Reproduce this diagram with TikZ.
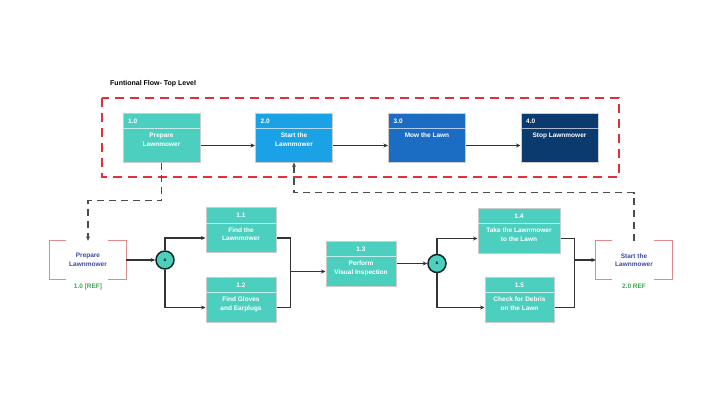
\documentclass[tikz,border=0pt]{standalone}
\usepackage{fontspec}
\setmainfont{Liberation Sans}
\usetikzlibrary{calc,arrows.meta}
\definecolor{tealbox}{HTML}{4CCFBE}
\definecolor{skybox}{HTML}{1BA1E6}
\definecolor{bluebox}{HTML}{1A6DC2}
\definecolor{navybox}{HTML}{0B3B6E}
\definecolor{reflabel}{HTML}{3AAA4E}
\definecolor{reftext}{HTML}{3B4BA8}
\definecolor{bracketred}{HTML}{E08A8E}
\definecolor{framered}{HTML}{E0303A}
\tikzset{
	fbox/.style={draw=black!20, line width=1pt, inner sep=0pt},
	boxtext/.style={text=white, font=\fontsize{6.5}{8.5}\selectfont\bfseries, align=center, inner sep=0pt},
	boxnum/.style={text=white, font=\fontsize{6.5}{7}\selectfont\bfseries, inner sep=0pt},
	numleft/.style={anchor=west, xshift=-33.5pt},
	flow/.style={draw=black!80, line width=1.3pt, -{Stealth[length=4.5pt,width=4pt]}},
	joinline/.style={draw=black!80, line width=1.3pt},
	dashflow/.style={draw=black!70, line width=1.6pt, dash pattern=on 7pt off 5pt, -{Stealth[length=4.5pt,width=4pt]}},
	refbox/.style={minimum width=76pt, minimum height=38pt, inner sep=0pt, text=reftext, font=\fontsize{6.5}{8.5}\selectfont\bfseries, align=center},
	bracket/.style={draw=bracketred, line width=1.1pt},
	reflbl/.style={text=reflabel, font=\fontsize{6.5}{7}\selectfont\bfseries, inner sep=0pt},
	andgate/.style={circle, draw=black!80!tealbox, line width=1.5pt, fill=tealbox, minimum size=18pt, inner sep=0pt, font=\fontsize{4}{4}\selectfont\bfseries}
}
% fill, name, centre, width, height, number options, number, text
\def\funcbox[#1](#2)(#3)(#4,#5)#6#7#8{
	\node[fbox, fill=#1, minimum width=#4pt, minimum height=#5pt] (#2) at (#3) {};
	\draw[white!65!#1, line width=0.8pt] ($(#2.north west)+(0.6,16)$) -- ($(#2.north east)+(-0.6,16)$);
	\node[boxnum, #6] at ($(#2.north)+(0,8.5)$) {#7};
	\node[boxtext, anchor=north] at ($(#2.north)+(0,20.5)$) {#8};
	\coordinate (#2-w) at ($(#2.west)+(0,8)$);
	\coordinate (#2-e) at ($(#2.east)+(0,8)$);
}
% name, centre, text
\def\refblock(#1)(#2)#3{
	\node[refbox] (#1) at (#2) {#3};
	\draw[bracket] ([xshift=16pt]#1.north west) -- (#1.north west) -- (#1.south west) -- ([xshift=16pt]#1.south west);
	\draw[bracket] ([xshift=-18pt]#1.north east) -- (#1.north east) -- (#1.south east) -- ([xshift=-18pt]#1.south east);
}

\begin{document}
\begin{tikzpicture}[x=1pt, y=-1pt]
	%%%%% START %%%%%
	\fill[white] (0,0) rectangle (720,413);
	\useasboundingbox (0,0) rectangle (720,413);
	
	% top level
	\node[anchor=west, inner sep=0pt, font=\fontsize{7}{8}\selectfont\bfseries] (title) at (110,84) {Funtional Flow- Top Level};
	\draw[framered, line width=2.4pt, dash pattern=on 9pt off 6pt] (102,98) rectangle (619,177);
	
	\funcbox[tealbox](b10)(161.5,137.5)(77,49){numleft}{1.0}{Prepare\\Lawnmower}
	\funcbox[skybox](b20)(294,137.5)(77,49){numleft}{2.0}{Start the\\Lawnmower}
	\funcbox[bluebox](b30)(427,137.5)(77,49){numleft}{3.0}{Mow the Lawn}
	\funcbox[navybox](b40)(559.5,137.5)(77,49){numleft}{4.0}{Stop Lawnmower}
	
	\draw[flow] (b10-e) -- (b20-w);
	\draw[flow] (b20-e) -- (b30-w);
	\draw[flow] (b30-e) -- (b40-w);
	
	% second level
	\refblock(ref10)(88,260){Prepare\\Lawnmower}
	\node[reflbl] (ref10lbl) at (88,287) {1.0 [REF]};
	\refblock(ref20)(634,260){Start the\\Lawnmower}
	\node[reflbl] (ref20lbl) at (634,286) {2.0 REF};
	
	\node[andgate] (and1) at (165,260) {\&};
	\node[andgate] (and2) at (437,263.5) {\&};
	
	\funcbox[tealbox](b11)(241,230)(70,45){}{1.1}{Find the\\Lawnmower}
	\funcbox[tealbox](b12)(241,299.5)(70,45){}{1.2}{Find Gloves\\and Earplugs}
	\funcbox[tealbox](b13)(361,263.5)(70,45){}{1.3}{Perform\\Visual Inspection}
	\funcbox[tealbox](b14)(519,230.5)(82,45){}{1.4}{Take the Lawnmower\\to the Lawn}
	\funcbox[tealbox](b15)(519.5,299.5)(69,45){}{1.5}{Check for Debris\\on the Lawn}
	
	\coordinate (d1) at ($(b10.south)+(0,38)$);
	\draw[dashflow] (b10.south) -- (d1) -| (ref10.north);
	\coordinate (d2) at ($(b20.south)+(0,30)$);
	\draw[dashflow] (ref20.north) |- (d2) -- (b20.south);
	
	\draw[flow] (ref10.east) -- (and1.west);
	\draw[flow] (and1.north) |- (b11-w);
	\draw[flow] (and1.south) |- (b12-w);
	\coordinate (m1) at ($(b13-w)+(-35,0)$);
	\draw[joinline] (b11-e) -| (m1);
	\draw[joinline] (b12-e) -| (m1);
	\draw[flow] (m1) -- (b13-w);
	
	\draw[flow] (b13.east) -- (and2.west);
	\draw[flow] (and2.north) |- (b14-w);
	\draw[flow] (and2.south) |- (b15-w);
	\coordinate (m2) at ($(ref20.west)+(-21,0)$);
	\draw[joinline] (b14-e) -| (m2);
	\draw[joinline] (b15-e) -| (m2);
	\draw[flow] (m2) -- (ref20.west);
	
	%%%%% END %%%%%
\end{tikzpicture}
\end{document}
